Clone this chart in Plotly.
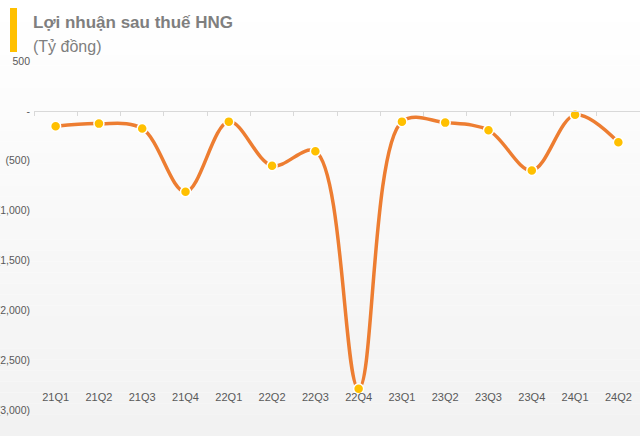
import plotly.graph_objects as go

quarters = ["21Q1", "21Q2", "21Q3", "21Q4", "22Q1", "22Q2", "22Q3", "22Q4",
            "23Q1", "23Q2", "23Q3", "23Q4", "24Q1", "24Q2"]
profit = [-154, -128, -178, -812, -108, -550, -406, -2787,
          -108, -118, -194, -597, -40, -315]
y_ticks = [500, 0, -500, -1000, -1500, -2000, -2500, -3000]
y_tick_text = ["500", "-", "(500)", "(1,000)", "(1,500)", "(2,000)", "(2,500)", "(3,000)"]

W, H = 640, 436
ML, MR, MT, MB = 34, 0, 61, 26
PH = H - MT - MB
PW = W - ML - MR
YMIN, YMAX = -3000, 500


def px_to_py(py):
    return (H - MB - py) / PH


def px_to_px(px):
    return (px - ML) / PW


fig = go.Figure()

# background gradient bands (white top -> light gray bottom)
n = 40
for i in range(n):
    y0p = H * i / n
    y1p = H * (i + 1) / n
    t = (i + 0.5) / n
    c = round(255 - (255 - 242) * t)
    fig.add_shape(type="rect", xref="paper", yref="paper",
                  x0=px_to_px(0), x1=px_to_px(W), y0=px_to_py(y1p), y1=px_to_py(y0p),
                  line=dict(width=0), fillcolor=f"rgb({c},{c},{c})", layer="below")

# invisible trace for the zero axis with boundary ticks
fig.add_trace(go.Scatter(x=quarters, y=profit, xaxis="x2", mode="lines",
                         line=dict(width=0), opacity=0, hoverinfo="skip", showlegend=False))

fig.add_trace(go.Scatter(
    x=quarters, y=profit, mode="lines+markers",
    line=dict(color="#ED7D31", width=3.5, shape="spline", smoothing=1),
    marker=dict(size=10, color="#FFC000", line=dict(color="white", width=1.5)),
    showlegend=False,
))

zero_pos = (0 - YMIN) / (YMAX - YMIN)

fig.update_layout(
    width=W, height=H,
    margin=dict(l=ML, r=MR, t=MT, b=MB, autoexpand=False),
    paper_bgcolor="white",
    plot_bgcolor="rgba(0,0,0,0)",
    font=dict(family="Liberation Sans, Arial, sans-serif", color="#595959"),
    xaxis=dict(type="category", categoryorder="array", categoryarray=quarters,
               range=[-0.5, len(quarters) - 0.5], automargin=False,
               anchor="free", position=px_to_py(389),
               showline=False, showgrid=False, zeroline=False, ticks="",
               tickfont=dict(size=11, color="#595959")),
    xaxis2=dict(type="category", categoryorder="array", categoryarray=quarters,
                range=[-0.5, len(quarters) - 0.5], automargin=False,
                overlaying="x", anchor="free", position=zero_pos,
                showline=True, linecolor="#d9d9d9", linewidth=1,
                ticks="outside", tickson="boundaries", ticklen=4, tickcolor="#d9d9d9",
                showticklabels=False, showgrid=False, zeroline=False),
    yaxis=dict(range=[YMIN, YMAX], tickvals=y_ticks, ticktext=y_tick_text,
               automargin=False,
               showgrid=False, zeroline=False, showline=False, ticks="",
               ticklabelstandoff=3,
               tickfont=dict(size=10.5, color="#595959")),
)

# yellow accent bar
fig.add_shape(type="rect", xref="paper", yref="paper",
              x0=px_to_px(10), x1=px_to_px(17), y0=px_to_py(52), y1=px_to_py(8),
              line=dict(width=0), fillcolor="#FFC000")

fig.add_annotation(text="<b>Lợi nhuận sau thuế HNG</b>", xref="paper", yref="paper",
                   x=px_to_px(31), y=px_to_py(22), xanchor="left", yanchor="middle",
                   showarrow=False, font=dict(size=17, color="#7f7f7f"))
fig.add_annotation(text="(Tỷ đồng)", xref="paper", yref="paper",
                   x=px_to_px(31), y=px_to_py(46), xanchor="left", yanchor="middle",
                   showarrow=False, font=dict(size=16, color="#7f7f7f"))

fig.write_html("out.html", config={"displayModeBar": False},
               post_script="document.body.style.margin='0';")
